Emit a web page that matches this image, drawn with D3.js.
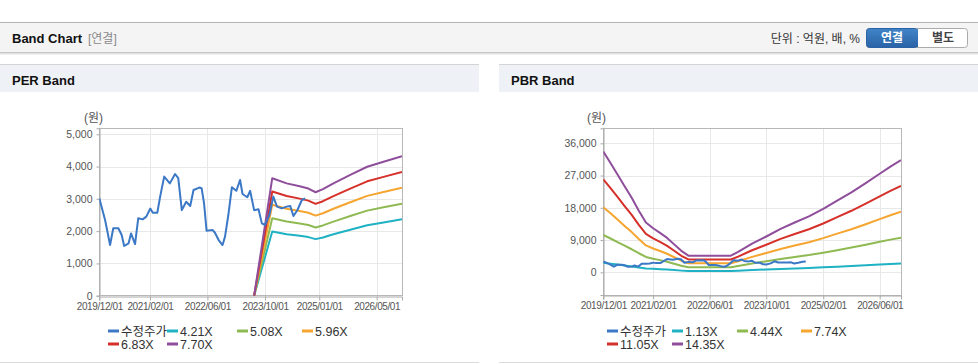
<!DOCTYPE html>
<html lang="ko">
<head>
  <meta charset="UTF-8">
  <title>Band Chart</title>
  <script src="https://d3js.org/d3.v7.min.js"></script>
</head>
<style>
  body { margin: 0; background: #fff; }
  svg { display: block; font-family: "Liberation Sans", "Noto Sans CJK KR", sans-serif; }
  .grid line { stroke: #e8e8e8; stroke-width: 1px; }
  .tick-label { font-size: 10.5px; fill: #555; }
  .x-label { font-size: 10px; letter-spacing: -0.4px; fill: #555; }
  .legend-text { font-size: 12.5px; fill: #333; }
  .band { fill: none; stroke-width: 2px; stroke-linejoin: round; }
</style>
<body>
<svg id="page" width="978" height="364"></svg>

<script>
  // price series (수정주가), shared by both charts
  const priceDates = ["2019-12-01","2020-01-19","2020-03-01","2020-03-28","2020-05-10","2020-06-07","2020-06-28",
    "2020-08-04","2020-08-25","2020-09-28","2020-10-25","2020-12-01","2021-01-01","2021-02-04","2021-02-25",
    "2021-04-04","2021-04-28","2021-06-01","2021-07-19","2021-09-01","2021-09-28","2021-10-28","2021-12-04",
    "2022-01-07","2022-02-04","2022-03-25","2022-04-13","2022-05-04","2022-05-25","2022-07-16","2022-08-04",
    "2022-09-04","2022-10-07","2022-10-28","2022-11-25","2022-12-25","2023-02-01","2023-03-04","2023-03-25",
    "2023-05-04","2023-05-28","2023-07-01","2023-08-07","2023-09-04","2023-10-01","2023-11-07","2023-12-10",
    "2024-01-10","2024-02-19","2024-04-01","2024-05-01","2024-05-28","2024-07-01","2024-08-07","2024-09-04"];
  const priceValues = [3020,2345,1570,2090,2090,1880,1540,
    1620,1930,1600,2400,2365,2450,2700,2570,
    2570,3070,3690,3480,3770,3640,2650,2910,
    2780,3275,3350,3330,2860,2015,2035,1950,
    1725,1570,1830,2500,3360,3250,3585,3150,
    3050,3250,2650,2675,2240,2190,2500,3070,
    2760,2705,2760,2780,2470,2655,2965,3015];

  // PER band
  const perLabels = ["4.21X","5.08X","5.96X","6.83X","7.70X"];
  const perDates = ["2023-07-01","2023-12-01","2024-04-01","2024-07-20","2024-10-01","2024-12-01",
    "2025-02-01","2025-05-01","2025-09-20","2026-02-10","2026-06-28","2026-12-01"];
  const per421 = [0,1990,1903,1854,1815,1752,1804,1903,2045,2184,2269,2365];
  const per508 = [0,2401,2296,2236,2190,2114,2177,2296,2467,2635,2738,2853];
  const per596 = [0,2817,2694,2624,2570,2481,2554,2694,2895,3092,3212,3348];
  const per683 = [0,3229,3087,3007,2945,2843,2927,3087,3317,3544,3681,3836];
  const per770 = [0,3640,3480,3390,3320,3205,3300,3480,3740,3995,4150,4325];
  const perYTicks = [0,1000,2000,3000,4000,5000];
  const perXTicks = ["2019-12-01","2021-02-01","2022-06-01","2023-10-01","2025-01-01","2026-05-01"];

  // PBR band
  const pbrLabels = ["1.13X","4.44X","7.74X","11.05X","14.35X"];
  const pbrDates = ["2019-12-01","2020-02-01","2020-04-01","2020-06-01","2020-08-01","2020-10-01","2020-12-01",
    "2021-02-01","2021-04-01","2021-06-01","2021-08-01","2021-10-01","2021-12-01","2022-12-01","2023-02-01",
    "2023-06-01","2023-10-01","2024-02-01","2024-06-01","2024-10-01","2025-02-01","2025-06-01","2025-10-01",
    "2026-02-01","2026-06-01","2026-09-01","2026-12-01"];
  const pbr113 = [2652,2400,2149,1889,1637,1354,1094,968,866,756,614,472,366,366,449,630,787,952,1094,1228,1393,1574,1755,1960,2164,2322,2463];
  const pbr444 = [10427,9437,8447,7426,6436,5322,4301,3806,3403,2970,2413,1856,1439,1439,1764,2475,3094,3744,4301,4827,5476,6188,6900,7704,8509,9127,9684];
  const pbr774 = [18178,16452,14726,12946,11220,9278,7498,6635,5933,5178,4207,3236,2508,2508,3075,4315,5394,6527,7498,8415,9547,10788,12029,13431,14834,15912,16883];
  const pbr1105 = [25950,23485,21021,18480,16016,13244,10703,9471,8470,7392,6006,4620,3581,3581,4389,6160,7700,9317,10703,12012,13629,15400,17171,19173,21175,22715,24101];
  const pbr1435 = [33700,30500,27300,24000,20800,17200,13900,12300,11000,9600,7800,6000,4650,4650,5700,8000,10000,12100,13900,15600,17700,20000,22300,24900,27500,29500,31300];
  const pbrYTicks = [0,9000,18000,27000,36000];
  const pbrXTicks = ["2019-12-01","2021-02-01","2022-06-01","2023-10-01","2025-02-01","2026-06-01"];

  const colors = ["#3b78c6","#1fb1c4","#8fba52","#f5a530","#d6302a","#8f4e9b"];
  const parse = d3.timeParse("%Y-%m-%d");
  const fmtDate = d3.timeFormat("%Y/%m/%d");

  const svg = d3.select("#page");

  // header bar
  svg.append("rect").attr("x", 0).attr("y", 22).attr("width", 978).attr("height", 31).attr("fill", "#f4f4f4");
  svg.append("line").attr("x1", 0).attr("x2", 978).attr("y1", 22.5).attr("y2", 22.5).attr("stroke", "#b4b4b4");
  svg.append("line").attr("x1", 0).attr("x2", 978).attr("y1", 52.5).attr("y2", 52.5).attr("stroke", "#c6c6c6");
  svg.append("line").attr("x1", 0).attr("x2", 978).attr("y1", 53.5).attr("y2", 53.5).attr("stroke", "#e2e2e2");
  svg.append("line").attr("x1", 0).attr("x2", 978).attr("y1", 54.5).attr("y2", 54.5).attr("stroke", "#f0f0f0");
  svg.append("text").attr("x", 12).attr("y", 43).attr("font-size", 13).attr("font-weight", "bold")
    .attr("fill", "#111").text("Band Chart");
  svg.append("text").attr("x", 88).attr("y", 43).attr("font-size", 12).attr("fill", "#8a8a8a").text("[연결]");
  svg.append("text").attr("x", 860).attr("y", 43).attr("font-size", 12).attr("fill", "#333")
    .attr("text-anchor", "end").text("단위 : 억원, 배, %");

  const grad = svg.append("defs").append("linearGradient").attr("id", "btn").attr("x1", 0).attr("x2", 0).attr("y1", 0).attr("y2", 1);
  grad.append("stop").attr("offset", "0%").attr("stop-color", "#4184c8");
  grad.append("stop").attr("offset", "100%").attr("stop-color", "#2a62a6");
  svg.append("rect").attr("x", 866.5).attr("y", 28.5).attr("width", 101).attr("height", 19).attr("rx", 3)
    .attr("fill", "#fff").attr("stroke", "#aaa");
  svg.append("rect").attr("x", 866.5).attr("y", 28.5).attr("width", 51).attr("height", 19).attr("rx", 3)
    .attr("fill", "url(#btn)").attr("stroke", "#2a62a6");
  svg.append("rect").attr("x", 912).attr("y", 29).attr("width", 6).attr("height", 18).attr("fill", "url(#btn)");
  svg.append("text").attr("x", 892).attr("y", 42).attr("font-size", 12).attr("font-weight", "bold")
    .attr("fill", "#fff").attr("text-anchor", "middle").text("연결");
  svg.append("text").attr("x", 943).attr("y", 42).attr("font-size", 12).attr("font-weight", "bold")
    .attr("fill", "#444").attr("text-anchor", "middle").text("별도");

  function drawChart(o) {
    const g = svg.append("g");

    // panel title
    g.append("line").attr("x1", o.px).attr("x2", o.px + 479).attr("y1", 64.5).attr("y2", 64.5).attr("stroke", "#d4d4d4");
    g.append("rect").attr("x", o.px).attr("y", 65).attr("width", 479).attr("height", 27).attr("fill", "#eef2f7");
    g.append("text").attr("x", o.px + 12).attr("y", 85).attr("font-size", 13).attr("font-weight", "bold")
      .attr("fill", "#111").text(o.title);
    g.append("line").attr("x1", o.px).attr("x2", o.px + 479).attr("y1", 362.5).attr("y2", 362.5).attr("stroke", "#dcdcdc");

    const x = d3.scaleTime().domain([parse("2019-12-01"), parse("2026-12-01")]).range([o.left, o.right]);
    const y = d3.scaleLinear().domain(o.yDomain).range([o.bottom, o.top]);

    // grid
    const grid = g.append("g").attr("class", "grid");
    grid.selectAll(".h").data(o.yTicks.filter(v => y(v) > o.top + 1 && y(v) < o.bottom - 1)).join("line")
      .attr("x1", o.left).attr("x2", o.right).attr("y1", d => Math.round(y(d)) + 0.5).attr("y2", d => Math.round(y(d)) + 0.5);
    grid.selectAll(".v").data(o.xTicks.slice(1)).join("line")
      .attr("y1", o.top).attr("y2", o.bottom).attr("x1", d => Math.round(x(parse(d))) + 0.5).attr("x2", d => Math.round(x(parse(d))) + 0.5);

    // frame
    g.append("rect").attr("x", Math.round(o.left) + 0.5).attr("y", Math.round(o.top) + 0.5)
      .attr("width", Math.round(o.right - o.left)).attr("height", Math.round(o.bottom - o.top))
      .attr("fill", "none").attr("stroke", "#b8b8b8");

    // axes
    const yAxis = d3.axisLeft(y).tickValues(o.yTicks).tickSize(3).tickPadding(4).tickFormat(d3.format(","));
    const ya = g.append("g").attr("transform", `translate(${Math.round(o.left) + 0.5},0)`).call(yAxis);
    const xAxis = d3.axisBottom(x).tickValues(o.xTicks.map(parse)).tickSize(4).tickPadding(2).tickFormat(fmtDate);
    const xa = g.append("g").attr("transform", `translate(0,${Math.round(o.bottom) + 0.5})`).call(xAxis);
    [ya, xa].forEach(a => {
      a.attr("font-family", null).attr("font-size", null);
      a.select(".domain").attr("stroke", "#aaa");
      a.selectAll(".tick line").attr("stroke", "#aaa");
      a.selectAll(".tick text").attr("fill", null);
    });
    ya.selectAll(".tick text").attr("class", "tick-label");
    xa.selectAll(".tick text").attr("class", "x-label");

    g.append("text").attr("x", o.unitX).attr("y", 122).attr("font-size", 12).attr("fill", "#555").text("(원)");

    // band lines
    const line = d3.line().x(d => x(d[0])).y(d => y(d[1]));
    const clipId = "clip" + o.px;
    g.append("clipPath").attr("id", clipId).append("rect")
      .attr("x", o.left).attr("y", o.top).attr("width", o.right - o.left).attr("height", o.bottom - o.top + 1);
    const plot = g.append("g").attr("clip-path", `url(#${clipId})`);
    o.bands.forEach((vals, i) => {
      plot.append("path").attr("class", "band").attr("stroke", colors[i + 1])
        .attr("d", line(o.bandDates.map((d, j) => [parse(d), vals[j]])));
    });
    plot.append("path").attr("class", "band").attr("stroke", colors[0])
      .attr("d", line(priceDates.map((d, j) => [parse(d), priceValues[j]])));

    // legend
    const names = ["수정주가"].concat(o.labels);
    names.forEach((n, i) => {
      const row = i < 4 ? 0 : 1;
      const col = i < 4 ? i : i - 4;
      const lx = o.legendX[col];
      const ly = row === 0 ? 331 : 344;
      g.append("line").attr("x1", lx).attr("x2", lx + 11).attr("y1", ly).attr("y2", ly)
        .attr("stroke", colors[i]).attr("stroke-width", 3);
      g.append("text").attr("class", "legend-text").attr("x", lx + 13).attr("y", ly + 4.5)
        .attr("font-size", i === 0 ? 13 : null).text(n);
    });
  }

  drawChart({
    px: 0, title: "PER Band", left: 99.3, right: 402, top: 128.3, bottom: 295.7,
    yDomain: [0, 5186], yTicks: perYTicks, xTicks: perXTicks, unitX: 84,
    bands: [per421, per508, per596, per683, per770], bandDates: perDates, labels: perLabels,
    legendX: [108, 167, 237, 302]
  });
  drawChart({
    px: 499, title: "PBR Band", left: 603.3, right: 901, top: 128.3, bottom: 295,
    yDomain: [-6330, 40190], yTicks: pbrYTicks, xTicks: pbrXTicks, unitX: 587,
    bands: [pbr113, pbr444, pbr774, pbr1105, pbr1435], bandDates: pbrDates, labels: pbrLabels,
    legendX: [607, 672, 737, 801]
  });
</script>
</body>
</html>
